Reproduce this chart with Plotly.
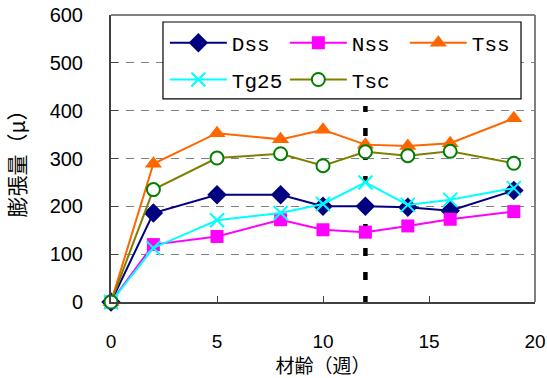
import plotly.graph_objects as go

weeks = [0, 2, 5, 8, 10, 12, 14, 16, 19]
dss = [0, 186, 224, 224, 200, 200, 198, 191, 233]
nss = [0, 120, 137, 172, 151, 146, 159, 173, 189]
tss = [0, 289, 353, 340, 360, 329, 326, 332, 384]
tg25 = [0, 113, 171, 186, 205, 250, 203, 214, 238]
tsc = [0, 235, 301, 310, 285, 314, 306, 315, 290]
marker_week = 12
marker_top = 410

x_range = [0, 20]
y_range = [0, 600]
x_ticks = [0, 5, 10, 15, 20]
y_ticks = [0, 100, 200, 300, 400, 500, 600]

fig = go.Figure()

# vertical dashed reference line at week 12 (behind the series)
fig.add_trace(go.Scatter(
    x=[marker_week, marker_week], y=[-4, marker_top], mode="lines",
    line=dict(color="black", width=4.5, dash="8px,16px"),
    showlegend=False, hoverinfo="skip", cliponaxis=False))

series = [
    ("Dss", dss, "#000080", dict(symbol="diamond", size=15, color="#000080"), "legend"),
    ("Nss", nss, "#FF00FF", dict(symbol="square", size=13, color="#FF00FF"), "legend2"),
    ("Tss", tss, "#FF6600", dict(symbol="triangle-up", size=15, color="#FF6600"), "legend3"),
    ("Tg25", tg25, "#00FFFF", dict(symbol="x-thin", size=14, color="#00FFFF",
                                   line=dict(color="#00FFFF", width=2)), "legend4"),
    ("Tsc", tsc, "#808000", dict(symbol="circle", size=13, color="white",
                                 line=dict(color="#008000", width=2)), "legend5"),
]
for name, vals, lc, mk, lg in series:
    fig.add_trace(go.Scatter(x=weeks, y=vals, name=name, mode="lines+markers",
                             line=dict(color=lc, width=2), marker=mk,
                             cliponaxis=False, legend=lg))

# legend frame (between grid and data), placed by fractions of the plot area
fx0, fx1, fy0, fy1 = 0.1226, 0.967, 0.7076, 0.9756
xs = x_range[1] - x_range[0]
ys = y_range[1] - y_range[0]
fig.add_shape(type="rect", xref="x", yref="y",
              x0=x_range[0] + fx0 * xs, x1=x_range[0] + fx1 * xs,
              y0=y_range[0] + fy0 * ys, y1=y_range[0] + fy1 * ys,
              fillcolor="white", line=dict(color="black", width=1.2), layer="between")

# top and right frame
fig.add_shape(type="line", xref="paper", yref="paper", x0=0, x1=1, y0=1, y1=1,
              line=dict(color="#808080", width=2))
fig.add_shape(type="line", xref="paper", yref="paper", x0=1, x1=1, y0=0, y1=1,
              line=dict(color="#808080", width=2))

leg_common = dict(orientation="h", xanchor="left", yanchor="middle",
                  bgcolor="rgba(0,0,0,0)", borderwidth=0, itemwidth=57,
                  font=dict(family="Liberation Mono, monospace", size=21, color="black"))
col_x = [0.127, 0.410, 0.693]
row_y = [0.9025, 0.774]

fig.update_layout(
    width=547, height=378,
    margin=dict(l=111, r=12, t=15, b=76),
    paper_bgcolor="white", plot_bgcolor="white",
    font=dict(family="Liberation Sans, Arial, sans-serif", size=20, color="black"),
    showlegend=True,
    legend=dict(x=col_x[0], y=row_y[0], **leg_common),
    legend2=dict(x=col_x[1], y=row_y[0], **leg_common),
    legend3=dict(x=col_x[2], y=row_y[0], **leg_common),
    legend4=dict(x=col_x[0], y=row_y[1], **leg_common),
    legend5=dict(x=col_x[1], y=row_y[1], **leg_common),
    xaxis=dict(
        range=x_range, tickvals=x_ticks, ticks="inside", ticklen=6,
        tickcolor="#404040", showline=True, linecolor="#404040", linewidth=2,
        showgrid=False, zeroline=False, automargin=False,
        ticklabelstandoff=21,
        title=dict(text="材齢（週）", font=dict(family="Noto Sans CJK JP", size=19),
                   standoff=5),
        tickfont=dict(size=19),
    ),
    yaxis=dict(
        range=y_range, tickvals=y_ticks, ticks="inside", ticklen=7,
        tickcolor="#404040", showline=True, linecolor="#404040", linewidth=2,
        showgrid=True, gridcolor="#808080", gridwidth=1, griddash="8px,7px",
        zeroline=False, automargin=False,
        ticklabelstandoff=22,
        title=dict(text="膨張量（μ）", font=dict(family="Noto Sans CJK JP", size=21),
                   standoff=18),
        tickfont=dict(size=20),
    ),
)

fig.write_html("out.html")
